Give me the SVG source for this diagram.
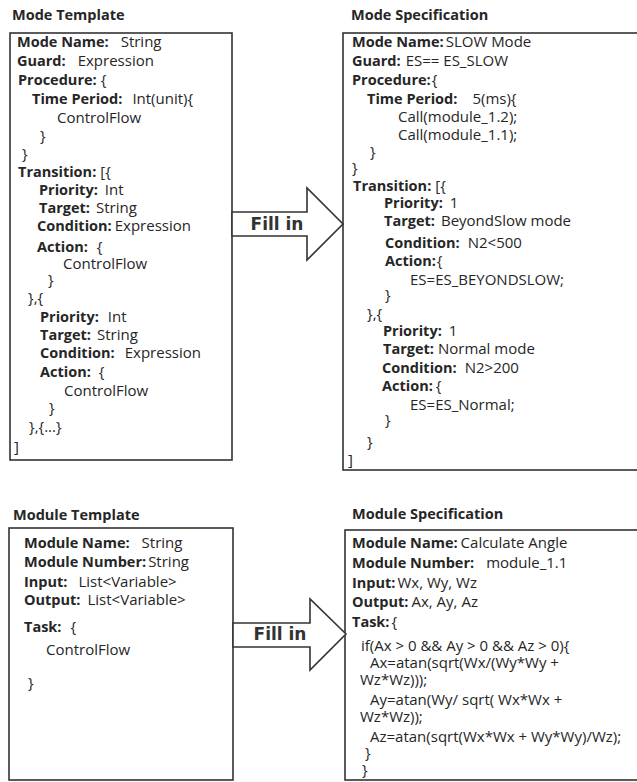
<svg xmlns="http://www.w3.org/2000/svg" width="637" height="782" viewBox="0 0 637 782">
<style>
text{font-family:"Open Sans","Noto Sans","DejaVu Sans",sans-serif;font-size:15px;fill:#262626}
.b{font-weight:700;font-size:14.5px}
.t{font-weight:700;font-size:14.5px}
.box{fill:#fff;stroke:#333;stroke-width:1.6}
.arr{fill:#fff;stroke:#333;stroke-width:1.6;stroke-linejoin:miter}
.fill{font-family:"DejaVu Sans",sans-serif;font-weight:700;font-size:17px;fill:#333}
</style>
<rect width="637" height="782" fill="#fff"/>

<g id="mode-template">
<text class="t" x="12" y="20">Mode Template</text>
<rect class="box" x="10" y="33" width="222" height="427"/>
<text x="17" y="47"><tspan class="b">Mode Name:</tspan><tspan dx="12">String</tspan></text>
<text x="17" y="66"><tspan class="b">Guard:</tspan><tspan dx="12">Expression</tspan></text>
<text x="18" y="85"><tspan class="b">Procedure:</tspan><tspan dx="4">{</tspan></text>
<text x="32" y="104"><tspan class="b">Time Period:</tspan><tspan dx="10">Int(unit){</tspan></text>
<text x="57" y="123">ControlFlow</text>
<text x="40" y="141">}</text>
<text x="22" y="159">}</text>
<text x="18" y="177"><tspan class="b">Transition:</tspan><tspan dx="4">[{</tspan></text>
<text x="39" y="195"><tspan class="b">Priority:</tspan><tspan dx="7">Int</tspan></text>
<text x="39" y="213"><tspan class="b">Target:</tspan><tspan dx="6">String</tspan></text>
<text x="37" y="231"><tspan class="b">Condition:</tspan><tspan dx="3">Expression</tspan></text>
<text x="37" y="252"><tspan class="b">Action:</tspan><tspan dx="9">{</tspan></text>
<text x="63" y="269">ControlFlow</text>
<text x="48" y="285">}</text>
<text x="28" y="303">},{</text>
<text x="40" y="322"><tspan class="b">Priority:</tspan><tspan dx="9">Int</tspan></text>
<text x="40" y="340"><tspan class="b">Target:</tspan><tspan dx="6">String</tspan></text>
<text x="40" y="358"><tspan class="b">Condition:</tspan><tspan dx="10">Expression</tspan></text>
<text x="40" y="377"><tspan class="b">Action:</tspan><tspan dx="8">{</tspan></text>
<text x="64" y="396">ControlFlow</text>
<text x="49" y="413">}</text>
<text x="29" y="432">},{...}</text>
<text x="14" y="452">]</text>
</g>

<g id="mode-specification">
<text class="t" x="351" y="20">Mode Specification</text>
<rect class="box" x="343" y="33" width="300" height="437"/>
<text x="352" y="47"><tspan class="b">Mode Name:</tspan><tspan dx="2">SLOW Mode</tspan></text>
<text x="352" y="66"><tspan class="b">Guard:</tspan><tspan dx="5">ES== ES_SLOW</tspan></text>
<text x="352" y="85"><tspan class="b">Procedure:</tspan><tspan dx="1">{</tspan></text>
<text x="367" y="104"><tspan class="b">Time Period:</tspan><tspan dx="15">5(ms){</tspan></text>
<text x="398" y="122">Call(module_1.2);</text>
<text x="398" y="140">Call(module_1.1);</text>
<text x="370" y="157">}</text>
<text x="352" y="173">}</text>
<text x="353" y="191"><tspan class="b">Transition:</tspan><tspan dx="4">[{</tspan></text>
<text x="384" y="208"><tspan class="b">Priority:</tspan><tspan dx="7">1</tspan></text>
<text x="384" y="226"><tspan class="b">Target:</tspan><tspan dx="6">BeyondSlow mode</tspan></text>
<text x="385" y="248"><tspan class="b">Condition:</tspan><tspan dx="8">N2&lt;500</tspan></text>
<text x="385" y="266"><tspan class="b">Action:</tspan><tspan dx="1">{</tspan></text>
<text x="410" y="285">ES=ES_BEYONDSLOW;</text>
<text x="385" y="300">}</text>
<text x="367" y="319">},{</text>
<text x="383" y="336"><tspan class="b">Priority:</tspan><tspan dx="7">1</tspan></text>
<text x="383" y="354"><tspan class="b">Target:</tspan><tspan dx="4">Normal mode</tspan></text>
<text x="382" y="373"><tspan class="b">Condition:</tspan><tspan dx="8">N2&gt;200</tspan></text>
<text x="382" y="391"><tspan class="b">Action:</tspan><tspan dx="3">{</tspan></text>
<text x="410" y="410">ES=ES_Normal;</text>
<text x="385" y="425">}</text>
<text x="367" y="447">}</text>
<text x="348" y="465">]</text>
</g>

<g id="module-template">
<text class="t" x="13" y="520">Module Template</text>
<rect class="box" x="9" y="528" width="224" height="252"/>
<text x="24" y="548"><tspan class="b">Module Name:</tspan><tspan dx="12">String</tspan></text>
<text x="24" y="567"><tspan class="b">Module Number:</tspan><tspan dx="2">String</tspan></text>
<text x="24" y="587"><tspan class="b">Input:</tspan><tspan dx="11">List&lt;Variable&gt;</tspan></text>
<text x="24" y="605"><tspan class="b">Output:</tspan><tspan dx="7">List&lt;Variable&gt;</tspan></text>
<text x="24" y="632"><tspan class="b">Task:</tspan><tspan dx="9">{</tspan></text>
<text x="46" y="655">ControlFlow</text>
<text x="28" y="688">}</text>
</g>

<g id="module-specification">
<text class="t" x="352" y="519">Module Specification</text>
<rect class="box" x="345" y="530" width="300" height="250"/>
<text x="352" y="548"><tspan class="b">Module Name:</tspan><tspan dx="3">Calculate Angle</tspan></text>
<text x="352" y="568"><tspan class="b">Module Number:</tspan><tspan dx="12">module_1.1</tspan></text>
<text x="352" y="588"><tspan class="b">Input:</tspan><tspan dx="2">Wx, Wy, Wz</tspan></text>
<text x="352" y="607"><tspan class="b">Output:</tspan><tspan dx="3">Ax, Ay, Az</tspan></text>
<text x="352" y="627"><tspan class="b">Task:</tspan><tspan dx="2">{</tspan></text>
<text x="361" y="651">if(Ax &gt; 0 &amp;&amp; Ay &gt; 0 &amp;&amp; Az &gt; 0){</text>
<text x="370" y="668">Ax=atan(sqrt(Wx/(Wy*Wy +</text>
<text x="360" y="685">Wz*Wz)));</text>
<text x="370" y="705">Ay=atan(Wy/ sqrt( Wx*Wx +</text>
<text x="360" y="722">Wz*Wz));</text>
<text x="370" y="742">Az=atan(sqrt(Wx*Wx + Wy*Wy)/Wz);</text>
<text x="365" y="758">}</text>
<text x="362" y="775">}</text>
</g>

<g id="connectors">
<g id="fill-in-1">
<polygon class="arr" points="232,212 307,212 307,188 343,224 307,260 307,236 232,236"/>
<text class="fill" x="277" y="230" text-anchor="middle">Fill in</text>
</g>
<g id="fill-in-2">
<polygon class="arr" points="233,623 310,623 310,599 346,634 310,670 310,647 233,647"/>
<text class="fill" x="280" y="640" text-anchor="middle">Fill in</text>
</g>
</g>
</svg>
